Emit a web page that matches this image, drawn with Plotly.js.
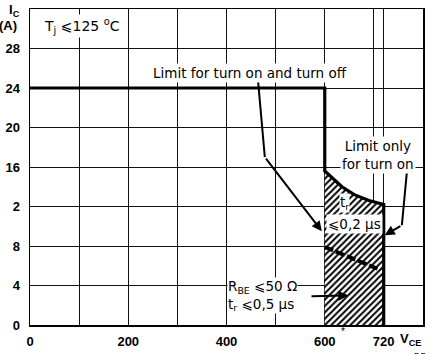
<!DOCTYPE html>
<html>
<head>
<meta charset="utf-8">
<script src="https://cdn.plot.ly/plotly-3.0.1.min.js"></script>
<style>html,body{margin:0;padding:0;background:#fff;}#chart{width:432px;height:354px;}</style>
</head>
<body>
<div id="chart"></div>
<script>
// Safe operating area boundary (V_CE in V, I_C in A)
var limitV = [0, 600, 600, 615, 635, 660, 690, 720, 720];
var limitI = [24, 24, 15.6, 14.9, 14.0, 13.2, 12.6, 12.2, 0];
// hatched region under the turn-on limit
var hatchV = [600, 600, 615, 635, 660, 690, 720, 720];
var hatchI = [0, 15.6, 14.9, 14.0, 13.2, 12.6, 12.2, 0];
// inner (turn on and turn off) dashed limit
var innerV = [600, 712];
var innerI = [7.9, 5.6];
// axis ticks
var xTickVals = [0, 200, 400, 600, 720];
var xTickText = ["0", "200", "400", "600", "720"];
var yTickVals = [0, 4, 8, 12, 16, 20, 24, 28];
var yTickText = ["0", "4", "8", "2", "16", "20", "24", "28"];

var txtFont = {family: "DejaVu Sans", size: 13.5, color: "#000"};
var tickFont = {family: "Liberation Sans", size: 13, color: "#000", weight: "bold"};

var traces = [
  {x: hatchV, y: hatchI, type: "scatter", mode: "lines", fill: "toself",
   line: {width: 0, color: "rgba(0,0,0,0)"}, fillcolor: "#fff",
   fillpattern: {shape: "/", size: 4.5, solidity: 0.45, fgcolor: "#000", bgcolor: "#fff"},
   hoverinfo: "skip", showlegend: false},
  {x: innerV, y: innerI, type: "scatter", mode: "lines",
   line: {width: 4, color: "#000", dash: "9px,3px"}, showlegend: false},
  {x: limitV, y: limitI, type: "scatter", mode: "lines",
   line: {width: 3.2, color: "#000"}, showlegend: false}
];

function arrow(x, y, ax, ay) {
  return {x: x, y: y, ax: ax, ay: ay, xref: "x", yref: "y", axref: "x", ayref: "y",
    text: "", showarrow: true, arrowhead: 2, arrowsize: 1, arrowwidth: 2,
    arrowcolor: "#000", standoff: 0, startstandoff: 0};
}
function label(text, x, y, extra) {
  var a = {x: x, y: y, xref: "x", yref: "y", text: text, showarrow: false,
    font: txtFont, bgcolor: "#fff", borderpad: 1};
  if (extra) for (var k in extra) a[k] = extra[k];
  return a;
}

var layout = {
  width: 432, height: 354,
  margin: {l: 30, r: 9, t: 9, b: 29, pad: 0},
  paper_bgcolor: "#fff", plot_bgcolor: "#fff",
  showlegend: false,
  xaxis: {range: [0, 800], tickmode: "array", tickvals: xTickVals, ticktext: xTickText,
    showgrid: true, gridcolor: "#111", gridwidth: 1,
    minor: {tick0: 0, dtick: 100, showgrid: true, gridcolor: "#111", gridwidth: 1, ticks: ""},
    zeroline: false, showline: true, mirror: true, linecolor: "#000", linewidth: 1.5,
    ticks: "", tickfont: tickFont, ticklabelstandoff: 4, fixedrange: true},
  yaxis: {range: [0, 32], tickmode: "array", tickvals: yTickVals, ticktext: yTickText,
    showgrid: true, gridcolor: "#111", gridwidth: 1,
    zeroline: false, showline: true, mirror: true, linecolor: "#000", linewidth: 1.5,
    ticks: "", tickfont: tickFont, ticklabelstandoff: 6, fixedrange: true},
  shapes: [
    {type: "line", xref: "x", yref: "y", x0: 464, y0: 24.85, x1: 478, y1: 17.0,
     line: {color: "#000", width: 2}},
    {type: "line", xref: "x", yref: "y", x0: 767, y0: 15.4, x1: 757, y1: 10.1,
     line: {color: "#000", width: 2}}
  ],
  annotations: [
    label("T<sub>j</sub> \u2A7D125 <sup>o</sup>C", 106, 30.3, {font: {family: "DejaVu Sans", size: 14, color: "#000"}}),
    label("Limit for turn on and turn off", 448, 25.55),
    label("Limit only<br>for turn on", 708, 17.2),
    label("t<sub>r</sub>", 641, 12.4, {borderpad: 0}),
    label("\u2A7D0,2 \u00B5s", 661, 10.25, {borderpad: 1}),
    label("R<sub>BE</sub> \u2A7D50 \u03A9<br>t<sub>r</sub> \u2A7D0,5 \u00B5s", 401, 3.0,
          {xanchor: "left", align: "left", borderpad: 0}),
    arrow(594, 9.5, 478, 17.0),
    arrow(722, 9.1, 757, 10.1),
    arrow(648, 3.0, 570, 2.9),
    {xref: "paper", yref: "paper", x: -0.0407, y: 0.995, text: "I<sub>C</sub>", showarrow: false,
     font: tickFont, xanchor: "center", yanchor: "middle"},
    {xref: "paper", yref: "paper", x: -0.056, y: 0.948, text: "(A)", showarrow: false,
     font: tickFont, xanchor: "center", yanchor: "middle"},
    {xref: "paper", yref: "paper", x: 0.7965, y: -0.022, text: "*", showarrow: false,
     font: {family: "Liberation Sans", size: 10, color: "#000"}, xanchor: "center", yanchor: "middle"},
    {xref: "paper", yref: "paper", x: 0.937, y: -0.046, text: "V<sub>CE</sub>", showarrow: false,
     font: tickFont, xanchor: "left", yanchor: "middle"},
    {xref: "paper", yref: "paper", x: 0.99, y: -0.104, text: "(V)", showarrow: false,
     font: {family: "Liberation Sans", size: 10, color: "#000", weight: "bold"}, xanchor: "center", yanchor: "middle"}
  ]
};

Plotly.newPlot("chart", traces, layout, {displayModeBar: false, staticPlot: true});
</script>
</body>
</html>
